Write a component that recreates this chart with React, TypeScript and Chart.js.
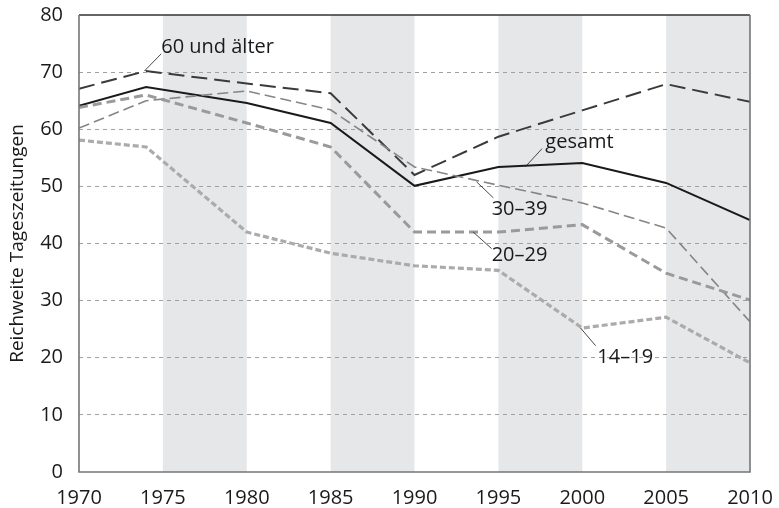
import React, { useEffect, useRef } from "react";
import { Chart, registerables } from "chart.js";

Chart.register(...registerables);

const years = [1970, 1974, 1980, 1985, 1990, 1995, 2000, 2005, 2010];
const gesamt = [64.1, 67.4, 64.6, 61.1, 50.1, 53.4, 54.1, 50.6, 44.1];
const aelter60 = [67.1, 70.2, 68.0, 66.3, 52.0, 58.7, 63.3, 67.9, 64.8];
const age3039 = [60.2, 65.0, 66.7, 63.4, 53.4, 50.2, 47.1, 42.7, 26.3];
const age2029 = [63.8, 66.0, 61.1, 56.9, 42.0, 42.0, 43.3, 34.8, 30.1];
const age1419 = [58.1, 56.9, 42.0, 38.3, 36.1, 35.3, 25.2, 27.1, 19.1];

const shadedBands = [
  [1975, 1980],
  [1985, 1990],
  [1995, 2000],
  [2005, 2010],
];

// label text, leader anchor on line, leader end, text left/center (data coords)
const labelTexts = ["60 und älter", "gesamt", "30–39", "20–29", "14–19"];
const labelAnchorX = [1973.9, 1996.6, 1993.7, 1993.5, 1999.9];
const labelAnchorY = [70.2, 53.4, 50.8, 42.0, 25.2];
const labelEndX = [1974.9, 1997.6, 1994.7, 1994.6, 2000.8];
const labelEndY = [73.2, 56.6, 48.0, 39.1, 22.1];
const labelTextX = [1974.9, 1997.8, 1994.6, 1994.6, 2000.9];
const labelTextY = [74.4, 57.8, 45.9, 38.0, 20.0];

const FONT = "'Open Sans', 'Noto Sans', sans-serif";

const toPts = (vals: number[]) => vals.map((v, i) => ({ x: years[i], y: v }));

const bandPlugin = {
  id: "bands",
  beforeDraw(chart: any) {
    const { ctx, chartArea, scales } = chart;
    ctx.save();
    ctx.fillStyle = "#e6e7e9";
    for (const [a, b] of shadedBands) {
      const x1 = scales.x.getPixelForValue(a);
      const x2 = scales.x.getPixelForValue(b);
      ctx.fillRect(x1, chartArea.top, x2 - x1, chartArea.bottom - chartArea.top);
    }
    ctx.restore();
  },
  afterDatasetsDraw(chart: any) {
    const { ctx, chartArea, scales } = chart;
    const { left, right, top, bottom } = chartArea;
    ctx.save();
    // frame
    ctx.lineWidth = 1.6;
    ctx.strokeStyle = "#333333";
    ctx.beginPath();
    ctx.moveTo(left, top);
    ctx.lineTo(right, top);
    ctx.stroke();
    ctx.strokeStyle = "#767676";
    ctx.beginPath();
    ctx.moveTo(right, top);
    ctx.lineTo(right, bottom);
    ctx.lineTo(left, bottom);
    ctx.lineTo(left, top);
    ctx.stroke();
    // labels
    ctx.font = `20px ${FONT}`;
    ctx.fillStyle = "#1a1a1a";
    ctx.strokeStyle = "#1a1a1a";
    ctx.lineWidth = 0.8;
    ctx.textBaseline = "middle";
    ctx.textAlign = "left";
    for (let i = 0; i < labelTexts.length; i++) {
      const ax = scales.x.getPixelForValue(labelAnchorX[i]);
      const ay = scales.y.getPixelForValue(labelAnchorY[i]);
      const ex = scales.x.getPixelForValue(labelEndX[i]);
      const ey = scales.y.getPixelForValue(labelEndY[i]);
      const tx = scales.x.getPixelForValue(labelTextX[i]);
      const ty = scales.y.getPixelForValue(labelTextY[i]);
      ctx.beginPath();
      ctx.moveTo(ax, ay);
      ctx.lineTo(ex, ey);
      ctx.stroke();
      ctx.fillText(labelTexts[i], tx, ty);
    }
    ctx.restore();
  },
};

export default function App() {
  const ref = useRef<HTMLCanvasElement>(null);
  useEffect(() => {
    document.body.style.margin = "0";
    const chart = new Chart(ref.current!, {
      type: "line",
      data: {
        datasets: [
          { label: "14–19", data: toPts(age1419), borderColor: "#ababab", borderWidth: 3.2, borderDash: [6, 3], pointRadius: 0, fill: false },
          { label: "20–29", data: toPts(age2029), borderColor: "#9a9a9a", borderWidth: 3, borderDash: [9, 5], pointRadius: 0, fill: false },
          { label: "30–39", data: toPts(age3039), borderColor: "#858585", borderWidth: 1.6, borderDash: [11, 5], pointRadius: 0, fill: false },
          { label: "60 und älter", data: toPts(aelter60), borderColor: "#3a3a3a", borderWidth: 2, borderDash: [16, 7], pointRadius: 0, fill: false },
          { label: "gesamt", data: toPts(gesamt), borderColor: "#1a1a1a", borderWidth: 2, pointRadius: 0, fill: false },
        ],
      },
      options: {
        animation: false,
        responsive: false,
        maintainAspectRatio: false,
        layout: { padding: { top: 15, right: 29, left: 0, bottom: 0 } },
        plugins: { legend: { display: false }, tooltip: { enabled: false } },
        scales: {
          x: {
            type: "linear",
            min: 1970,
            max: 2010,
            grid: { display: false, drawTicks: false },
            border: { display: false },
            ticks: { stepSize: 5, color: "#1a1a1a", font: { family: FONT, size: 20 }, padding: 14, maxRotation: 0, callback: (v: any) => String(v) },
            afterFit: (s: any) => {
              s.height = 36;
              s.paddingLeft = 0;
              s.paddingRight = 0;
            },
          },
          y: {
            min: 0,
            max: 80,
            grid: {
              drawTicks: false,
              color: (c: any) => (c.tick && (c.tick.value === 0 || c.tick.value === 80) ? "rgba(0,0,0,0)" : "#a0a0a0"),
              lineWidth: 1,
            },
            border: { display: false, dash: [4, 4] },
            ticks: { stepSize: 10, color: "#1a1a1a", font: { family: FONT, size: 20 }, padding: 16 },
            title: { display: true, text: "Reichweite Tageszeitungen", color: "#1a1a1a", font: { family: FONT, size: 19 }, padding: 6 },
            afterFit: (s: any) => {
              s.width = 79;
              s.paddingTop = 0;
              s.paddingBottom = 0;
            },
          },
        },
      },
      plugins: [bandPlugin],
    });
    return () => chart.destroy();
  }, []);
  return (
    <div style={{ width: 779, height: 508 }}>
      <canvas ref={ref} width={779} height={508} style={{ width: 779, height: 508, display: "block" }} />
    </div>
  );
}
